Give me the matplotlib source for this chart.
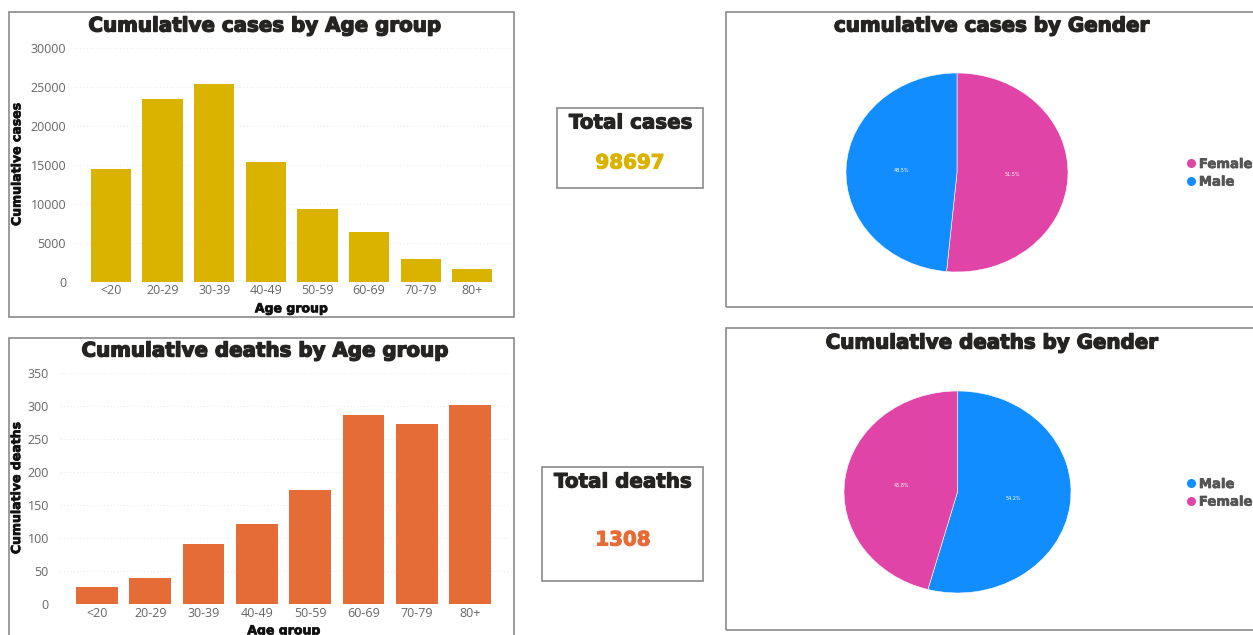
import matplotlib
matplotlib.use("Agg")
import matplotlib.pyplot as plt
from matplotlib.patches import Rectangle
from matplotlib.lines import Line2D
import matplotlib.patheffects as pe

# ---------------- data ----------------
age_groups = ["<20", "20-29", "30-39", "40-49", "50-59", "60-69", "70-79", "80+"]
cases_by_age = [14450, 23420, 25350, 15350, 9320, 6370, 2910, 1630]
deaths_by_age = [26, 39, 91, 121, 172, 286, 272, 301]
total_cases = 98697
total_deaths = 1308
gender_cases_labels = ["Female", "Male"]
gender_cases_pct = [51.5, 48.5]
gender_deaths_labels = ["Male", "Female"]
gender_deaths_pct = [54.2, 45.8]
case_ticks = [0, 5000, 10000, 15000, 20000, 25000, 30000]
death_ticks = [0, 50, 100, 150, 200, 250, 300, 350]

# ---------------- style ----------------
W, H = 1253, 635
YELLOW = "#D9B300"
ORANGE = "#E66C37"
BLUE = "#118DFF"
PINK = "#E044A7"
DARK = "#252423"
gender_colors = {"Female": PINK, "Male": BLUE}
TICK_FONT = "Open Sans"

fig = plt.figure(figsize=(W / 100, H / 100), dpi=100)
fig.patch.set_facecolor("white")


def rect(l, t, r, b):
    return [l / W, 1 - b / H, (r - l) / W, (b - t) / H]


def fx(x):
    return x / W


def fy(y):
    return 1 - y / H


def box(l, t, r, b):
    fig.add_artist(Rectangle((fx(l), fy(b)), (r - l) / W, (b - t) / H,
                             transform=fig.transFigure, fill=False,
                             edgecolor="#8a8a8a", linewidth=1.2))


def heavy(t, color, lw=0.9):
    t.set_path_effects([pe.withStroke(linewidth=lw, foreground=color)])
    return t


def ftitle(x, y, s, size=14.3):
    t = fig.text(fx(x), fy(y), s, ha="center", va="center", fontsize=size,
                 family="DejaVu Sans", fontweight="bold", color=DARK)
    return heavy(t, DARK, 1.0)


# ---------------- panel borders ----------------
box(9, 12, 514, 317)
box(9, 338, 514, 640)
box(557, 108, 703, 188)
box(542, 467, 703, 581)
box(726, 12, 1260, 307)
box(726, 328, 1260, 630)


def bar_panel(axrect, values, ticks, color, xlim, ylabel, ylab_x, ypad):
    ax = fig.add_axes(axrect)
    x = list(range(len(age_groups)))
    ax.bar(x, values, width=0.78, color=color, zorder=3)
    ax.set_xlim(*xlim)
    ax.set_ylim(ticks[0], ticks[-1])
    ax.set_yticks(ticks)
    ax.set_xticks(x)
    ax.set_xticklabels(age_groups)
    for s in ax.spines.values():
        s.set_visible(False)
    ax.tick_params(axis="both", length=0, labelsize=9, labelcolor="#666666")
    ax.tick_params(axis="y", pad=ypad)
    ax.tick_params(axis="x", pad=2)
    for lab in ax.get_xticklabels() + ax.get_yticklabels():
        lab.set_family(TICK_FONT)
    ax.yaxis.grid(True, color="#ececec", linestyle=(0, (1, 2)), linewidth=0.8, zorder=0)
    yl = ax.set_ylabel(ylabel, fontsize=9, fontweight="bold", family="DejaVu Sans", color="#111111")
    heavy(yl, "#111111", 0.5)
    ax.yaxis.set_label_coords(ylab_x, 0.5)
    xl = ax.set_xlabel("Age group", fontsize=9, fontweight="bold", family="DejaVu Sans", color="#111111")
    heavy(xl, "#111111", 0.5)
    ax.xaxis.set_label_coords(0.497, -0.088)
    ax.set_facecolor("none")
    return ax


# Cases by age
bar_panel(rect(73, 47.7, 512, 281.7), cases_by_age, case_ticks, YELLOW,
          (-0.736, 7.77), "Cumulative cases", -0.113, 5)
ftitle(265, 26, "Cumulative cases by Age group")

# Deaths by age
bar_panel(rect(60, 372.7, 510, 604), deaths_by_age, death_ticks, ORANGE,
          (-0.694, 7.75), "Cumulative deaths", -0.082, 8)
ftitle(265, 351, "Cumulative deaths by Age group")


# KPI cards
def kpi(x, y, s, color):
    t = fig.text(fx(x), fy(y), s, ha="center", va="center", fontsize=14.3,
                 family="DejaVu Sans", fontweight="bold", color=color)
    heavy(t, color, 0.8)


kpi(631, 123, "Total cases", DARK)
kpi(630, 163, f"{total_cases}", YELLOW)
kpi(623, 482, "Total deaths", DARK)
kpi(623, 540, f"{total_deaths}", ORANGE)


def pie_panel(axrect, labels, pcts, legend_xy):
    ax = fig.add_axes(axrect)
    cols = [gender_colors[l] for l in labels]
    ax.pie(pcts, colors=cols, startangle=90, counterclock=False,
           autopct="%.1f%%", pctdistance=0.5,
           wedgeprops=dict(edgecolor="white", linewidth=0.4),
           textprops=dict(color="white", fontsize=3.5))
    ax.set_aspect("auto")
    ax.set_xlim(-1, 1)
    ax.set_ylim(-1, 1)
    handles = [Line2D([], [], marker="o", linestyle="", color=c, markersize=5.5) for c in cols]
    leg = fig.legend(handles, labels, loc="upper left",
                     bbox_to_anchor=(fx(legend_xy[0]), fy(legend_xy[1])),
                     bbox_transform=fig.transFigure, frameon=False,
                     handlelength=0.6, handletextpad=0.3, labelspacing=0.35,
                     borderpad=0, borderaxespad=0,
                     prop=dict(family="DejaVu Sans", weight="bold", size=9.5),
                     labelcolor="#555555")
    for t in leg.get_texts():
        heavy(t, "#555555", 0.5)
    return ax


pie_panel(rect(846, 73, 1068, 272), gender_cases_labels, gender_cases_pct, (1187, 158))
ftitle(992, 26, "cumulative cases by Gender")
pie_panel(rect(844, 391, 1071, 593), gender_deaths_labels, gender_deaths_pct, (1187, 478))
ftitle(992, 343, "Cumulative deaths by Gender")

fig.savefig("out.png", dpi=100, facecolor="white")
